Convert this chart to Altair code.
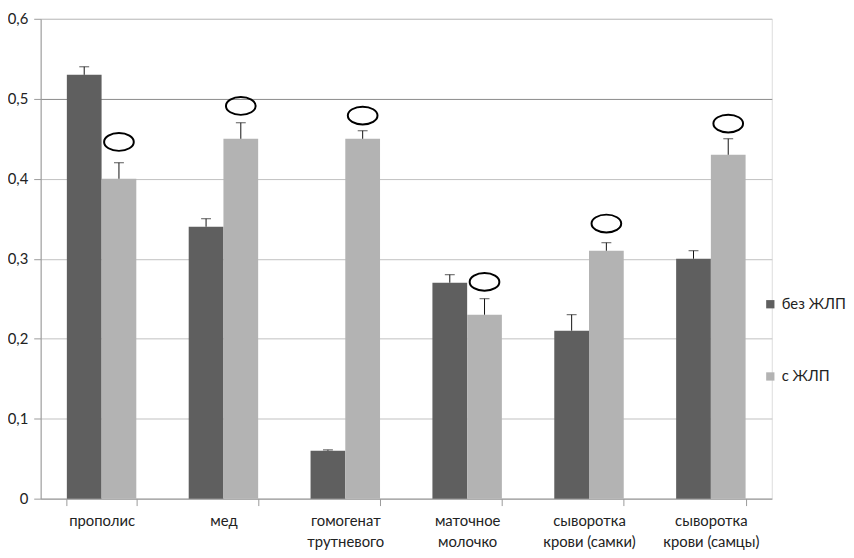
import altair as alt
import pandas as pd

categories = ["прополис", "мед", "гомогенат трутневого", "маточное молочко",
              "сыворотка крови (самки)", "сыворотка крови (самцы)"]
series = ["без ЖЛП", "с ЖЛП"]
values_without = [0.53, 0.34, 0.06, 0.27, 0.21, 0.30]
errtop_without = [0.54, 0.35, 0.061, 0.28, 0.23, 0.31]
values_with = [0.40, 0.45, 0.45, 0.23, 0.31, 0.43]
errtop_with = [0.42, 0.47, 0.46, 0.25, 0.32, 0.45]
ellipse_y = [0.446, 0.491, 0.479, 0.271, 0.344, 0.469]

rows = []
for i, c in enumerate(categories):
    rows.append({"cat": c, "series": series[0], "value": values_without[i], "err": errtop_without[i]})
    rows.append({"cat": c, "series": series[1], "value": values_with[i], "err": errtop_with[i]})
df = pd.DataFrame(rows)
ell = pd.DataFrame({"cat": categories, "series": [series[1]] * len(categories), "y": ellipse_y})

FONT = "Lato"
x_enc = alt.X("cat:N", sort=categories, title=None,
              scale=alt.Scale(paddingInner=0.43, paddingOuter=0.215),
              axis=alt.Axis(labelAngle=0, tickBand="extent", domainColor="#9a9a9a",
                            tickColor="#9a9a9a", tickSize=7, labelFontSize=15,
                            labelFont=FONT, labelColor="#222222", labelLineHeight=21,
                            labelPadding=8, grid=False,
                            labelExpr="indexof(datum.label, ' ') < 0 ? datum.label : "
                                      "[substring(datum.label, 0, indexof(datum.label, ' ')), "
                                      "substring(datum.label, indexof(datum.label, ' ') + 1)]"))
xoff = alt.XOffset("series:N", sort=series, scale=alt.Scale(paddingInner=0, paddingOuter=0))
y_scale = alt.Scale(domain=[0, 0.6], nice=False)

bars = alt.Chart(df).mark_bar().encode(
    x=x_enc,
    xOffset=xoff,
    y=alt.Y("value:Q", scale=y_scale, title=None,
            axis=alt.Axis(values=[0, 0.1, 0.2, 0.3, 0.4, 0.5, 0.6],
                          labelExpr="datum.value == 0 ? '0' : replace(format(datum.value, '.1f'), '.', ',')",
                          domainColor="#9a9a9a", tickColor="#9a9a9a", tickSize=7,
                          labelFontSize=15, labelFont=FONT, labelColor="#222222",
                          labelPadding=6,
                          gridColor=alt.condition("abs(datum.value - 0.5) < 0.001",
                                                  alt.value("#8a8a8a"), alt.value("#c0c0c0")))),
    color=alt.Color("series:N", sort=series,
                    scale=alt.Scale(domain=series, range=["#5f5f5f", "#b3b3b3"]),
                    legend=alt.Legend(title=None, orient="none", legendX=730, legendY=281,
                                      symbolType="square", symbolSize=70, rowPadding=57,
                                      labelFontSize=15, labelFont=FONT, labelColor="#222222",
                                      symbolStrokeWidth=0)),
)

stems = alt.Chart(df).mark_rule(color="#111111", strokeWidth=1).encode(
    x=alt.X("cat:N", sort=categories), xOffset=xoff,
    y=alt.Y("value:Q", scale=y_scale), y2="err:Q")

caps = alt.Chart(df).mark_tick(color="#111111", thickness=1, size=10).encode(
    x=alt.X("cat:N", sort=categories), xOffset=xoff,
    y=alt.Y("err:Q", scale=y_scale))

ellipse_path = "M -1 0 A 1 0.6 0 1 0 1 0 A 1 0.6 0 1 0 -1 0 Z"
ellipses = alt.Chart(ell).mark_point(shape=ellipse_path, filled=False, stroke="black",
                                     strokeWidth=2, size=900, dx=-10, opacity=1).encode(
    x=alt.X("cat:N", sort=categories), xOffset=xoff,
    y=alt.Y("y:Q", scale=y_scale))

chart = alt.layer(bars, stems, caps, ellipses).properties(
    width=739, height=485,
    autosize=alt.AutoSizeParams(type="none"),
    padding={"left": 33, "top": 8, "right": 75, "bottom": 50},
).configure_view(stroke=None).configure(background="white")

chart.save("out.html", embed_options={"renderer": "svg", "actions": False})
